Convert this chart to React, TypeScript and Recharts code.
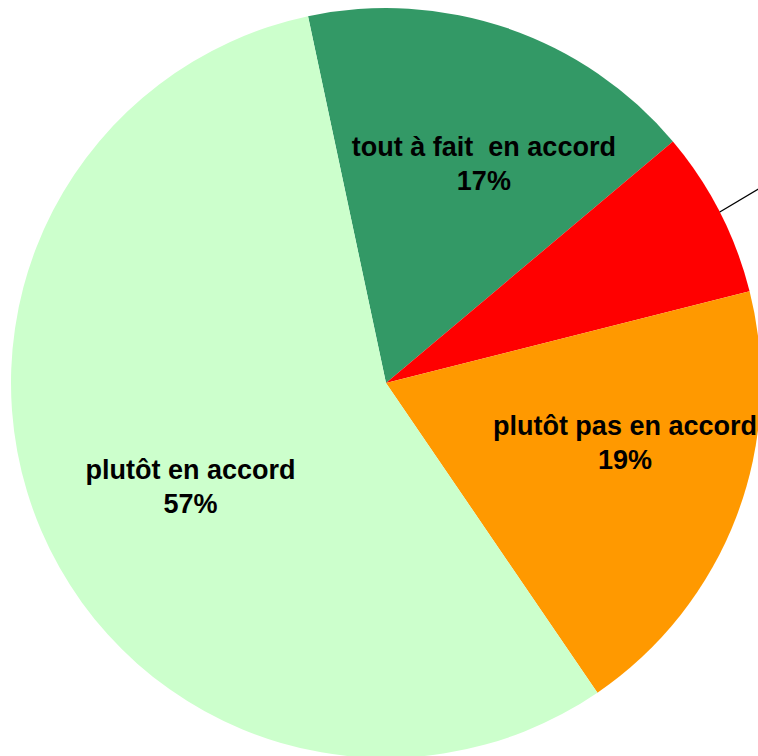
import { Pie, PieChart, Cell } from "recharts";

const categories = ["tout à fait  en accord", "pas du tout en accord", "plutôt pas en accord", "plutôt en accord"];
const shares = [17.2, 7.2, 19.4, 56.2];
const percentLabels = ["17%", "7%", "19%", "57%"];
const sliceColors = ["#339966", "#FF0000", "#FF9900", "#CCFFCC"];

// label placement per slice: [radius, angle shift from mid angle]
const labelPlacement: Record<number, [number, number]> = {
  0: [241, -5],
  2: [246, 7],
  3: [221, 4.7],
};

const data = categories.map((name, i) => ({ name, value: shares[i], pct: percentLabels[i] }));

const RAD = Math.PI / 180;

function SliceLabel(props: any) {
  const { cx, cy, midAngle, outerRadius, index } = props;
  const place = labelPlacement[index];
  if (!place) {
    // label sits outside the visible area, only its leader line shows
    const x1 = cx + outerRadius * Math.cos(-midAngle * RAD);
    const y1 = cy + outerRadius * Math.sin(-midAngle * RAD);
    const x2 = cx + (outerRadius + 70) * Math.cos(-(midAngle + 0.6) * RAD);
    const y2 = cy + (outerRadius + 70) * Math.sin(-(midAngle + 0.6) * RAD);
    return <line x1={x1} y1={y1} x2={x2} y2={y2} stroke="#000" strokeWidth={1.3} />;
  }
  const [r, shift] = place;
  const a = (midAngle + shift) * RAD;
  const x = cx + r * Math.cos(-a);
  const y = cy + r * Math.sin(-a);
  return (
    <text
      x={x}
      y={y - 7}
      textAnchor="middle"
      fill="#000"
      fontFamily="'Liberation Sans', Arial, sans-serif"
      fontWeight="bold"
      fontSize={27}
      style={{ whiteSpace: "pre" }}
    >
      <tspan x={x}>{data[index].name}</tspan>
      <tspan x={x} dy={34}>{data[index].pct}</tspan>
    </text>
  );
}

export default function App() {
  return (
    <div style={{ position: "absolute", left: 0, top: 0, width: 758, height: 756, background: "#fff" }}>
      <PieChart width={758} height={756} margin={{ top: 0, right: 0, bottom: 0, left: 0 }}>
        <Pie
          data={data}
          dataKey="value"
          nameKey="name"
          cx={386}
          cy={383}
          outerRadius={375}
          startAngle={102}
          endAngle={-258}
          stroke="none"
          label={SliceLabel}
          labelLine={false}
          isAnimationActive={false}
        >
          {data.map((d, i) => (
            <Cell key={d.name} fill={sliceColors[i]} />
          ))}
        </Pie>
      </PieChart>
    </div>
  );
}
